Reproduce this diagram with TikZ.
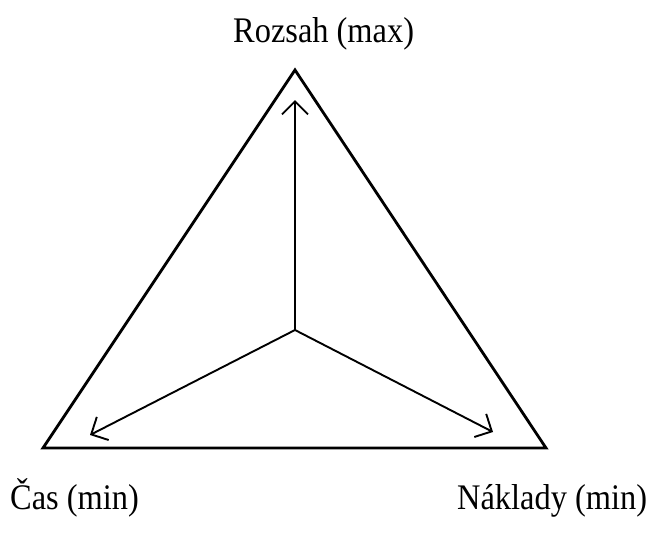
\documentclass[tikz,border=0pt]{standalone}
\usepackage{fontspec}
\setmainfont{Liberation Serif}
\usetikzlibrary{arrows.meta}
\begin{document}
\begin{tikzpicture}[x=1pt,y=-1pt,
  tri/.style={line width=2.8pt, line join=miter},
  axis/.style={line width=1.9pt, -{Straight Barb[length=13pt,width=26pt,line width=1.9pt]}},
  lbl/.style={inner sep=0pt, anchor=base west, font=\fontsize{36}{40}\selectfont}]
\useasboundingbox (0,0) rectangle (646,536);
\coordinate (A) at (295,70);
\coordinate (B) at (43,448);
\coordinate (C) at (546,448);
\coordinate (O) at (295,330);
\coordinate (Ue) at (295,100);
\coordinate (Le) at (90,435);
\coordinate (Re) at (493,432);
\draw[tri] (A) -- (B) -- (C) -- cycle;
\draw[axis] (O) -- (Ue);
\draw[axis] (O) -- (Le);
\draw[axis] (O) -- (Re);
\node[lbl] (top) at (233,42) {\scalebox{0.9}[1]{Rozsah (max)}};
\node[lbl] (cas) at (10,509) {\scalebox{0.9}[1]{Čas (min)}};
\node[lbl] (nak) at (457,509) {\scalebox{0.9}[1]{Náklady (min)}};
\end{tikzpicture}
\end{document}
